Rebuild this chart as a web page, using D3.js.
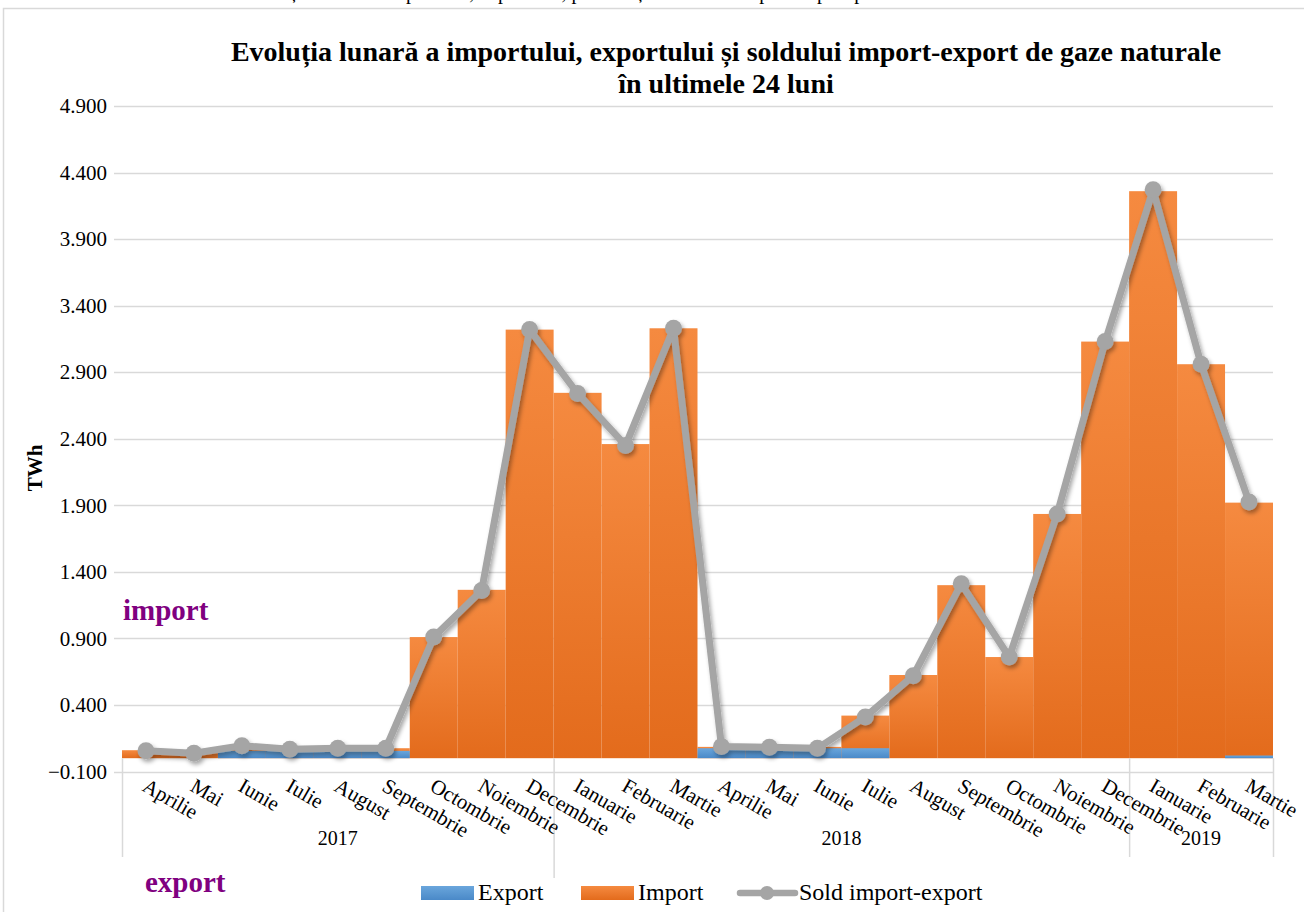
<!DOCTYPE html>
<html>
<head>
<meta charset="utf-8">
<script src="https://cdn.jsdelivr.net/npm/d3@7"></script>
<style>
  body { margin: 0; background: #fff; }
  svg text { font-family: "Liberation Serif", "Times New Roman", serif; fill: #000; }
</style>
</head>
<body>
<svg id="chart" width="1304" height="912"></svg>
<script>
// months, two years of data (Apr 2017 - Mar 2019)
let months = ['Aprilie','Mai','Iunie','Iulie','August','Septembrie','Octombrie','Noiembrie','Decembrie','Ianuarie','Februarie','Martie',
  'Aprilie','Mai','Iunie','Iulie','August','Septembrie','Octombrie','Noiembrie','Decembrie','Ianuarie','Februarie','Martie'];
let years = [{label: '2017', count: 9}, {label: '2018', count: 12}, {label: '2019', count: 3}];

let importVals = [0.06, 0.045, 0.07, 0.07, 0.07, 0.075, 0.91, 1.265, 3.22, 2.745, 2.36, 3.23,
  0.085, 0.085, 0.085, 0.32, 0.625, 1.30, 0.76, 1.835, 3.13, 4.26, 2.96, 1.92];
let exportVals = [0, 0, 0.055, 0.055, 0.055, 0.055, 0, 0, 0, 0, 0, 0,
  0.075, 0.075, 0.075, 0.075, 0, 0, 0, 0, 0, 0, 0, 0.02];
let soldVals = [0.056, 0.037, 0.094, 0.067, 0.074, 0.074, 0.91, 1.26, 3.22, 2.74, 2.35, 3.23,
  0.087, 0.082, 0.074, 0.31, 0.62, 1.31, 0.76, 1.835, 3.13, 4.27, 2.96, 1.925];
let yTicks = [-0.1, 0.4, 0.9, 1.4, 1.9, 2.4, 2.9, 3.4, 3.9, 4.4, 4.9];

let svg = d3.select('#chart');
let defs = svg.append('defs');

let gOrange = defs.append('linearGradient').attr('id', 'gOrange').attr('x1', 0).attr('y1', 0).attr('x2', 0).attr('y2', 1);
gOrange.append('stop').attr('offset', '0%').attr('stop-color', '#F58A40');
gOrange.append('stop').attr('offset', '100%').attr('stop-color', '#E36B1C');
let gBlue = defs.append('linearGradient').attr('id', 'gBlue').attr('x1', 0).attr('y1', 0).attr('x2', 0).attr('y2', 1);
gBlue.append('stop').attr('offset', '0%').attr('stop-color', '#6AA6DC');
gBlue.append('stop').attr('offset', '100%').attr('stop-color', '#4A89C8');

let shadow = defs.append('filter').attr('id', 'shadow').attr('x', '-20%').attr('y', '-20%').attr('width', '140%').attr('height', '140%');
shadow.append('feDropShadow').attr('dx', 2).attr('dy', 3).attr('stdDeviation', 2.2)
  .attr('flood-color', '#000').attr('flood-opacity', 0.35);

// page text above the chart, only its lower edge shows
svg.append('text').attr('x', 652).attr('y', -1).attr('text-anchor', 'middle')
  .style('font-size', '20px')
  .text('Evoluția lunară a importului, exportului, precum și a soldului import-export pentru ultimele 24 de luni');

// chart frame
svg.append('rect').attr('x', 3.5).attr('y', 8.5).attr('width', 1320).attr('height', 920)
  .attr('fill', 'none').attr('stroke', '#d9d9d9').attr('stroke-width', 1.5);

let x = d3.scaleBand().domain(d3.range(months.length)).range([122, 1273]).padding(0);
let y = d3.scaleLinear().domain([-0.1, 4.9]).range([771.5, 106]);

// gridlines
svg.append('g').selectAll('line').data(yTicks).join('line')
  .attr('x1', 114).attr('x2', 1273)
  .attr('y1', d => Math.round(y(d)) + 0.5).attr('y2', d => Math.round(y(d)) + 0.5)
  .attr('stroke', '#d9d9d9').attr('stroke-width', 1.3);

// y axis labels
let yAxis = d3.axisLeft(y).tickValues(yTicks).tickSize(0).tickPadding(0)
  .tickFormat(d => d3.format('.3f')(d));
let yg = svg.append('g').attr('transform', 'translate(107,0)').call(yAxis);
yg.select('.domain').remove();
yg.selectAll('text').style('font-size', '21px').style('font-family', '"Liberation Serif", serif').attr('fill', '#000');

// bars: import behind, export in front
svg.append('g').selectAll('rect').data(importVals).join('rect')
  .attr('x', (d, i) => x(i)).attr('width', x.bandwidth())
  .attr('y', d => y(d)).attr('height', d => y(0) - y(d))
  .attr('fill', 'url(#gOrange)');
svg.append('g').selectAll('rect').data(exportVals).join('rect')
  .attr('x', (d, i) => x(i)).attr('width', x.bandwidth())
  .attr('y', d => y(d)).attr('height', d => y(0) - y(d))
  .attr('fill', 'url(#gBlue)');

// zero axis line
svg.append('line').attr('x1', 122).attr('x2', 1273).attr('y1', y(0)).attr('y2', y(0))
  .attr('stroke', '#d0d0d0').attr('stroke-width', 2).attr('filter', 'url(#shadow)');

// category axis: separators and labels
let bounds = [0];
years.forEach(yr => bounds.push(bounds[bounds.length - 1] + yr.count));
let sepX = i => i < months.length ? x(i) : x.range()[1];
svg.append('g').selectAll('line').data(bounds).join('line')
  .attr('x1', d => sepX(d) + 0.5).attr('x2', d => sepX(d) + 0.5)
  .attr('y1', y(0)).attr('y2', (d, i) => i === 1 ? 878 : 857)
  .attr('stroke', '#d9d9d9').attr('stroke-width', 1.5);

svg.append('g').selectAll('text').data(months).join('text')
  .attr('transform', (d, i) => `translate(${x(i) + x.bandwidth() / 2 - 5},790) rotate(30)`)
  .style('font-size', '21px')
  .text(d => d);

svg.append('g').selectAll('text').data(years).join('text')
  .attr('x', (d, i) => (sepX(bounds[i]) + sepX(bounds[i + 1])) / 2)
  .attr('y', 845).attr('text-anchor', 'middle')
  .style('font-size', '20px')
  .text(d => d.label);

// sold line
let line = d3.line().x((d, i) => x(i) + x.bandwidth() / 2).y(d => y(d));
let soldG = svg.append('g').attr('filter', 'url(#shadow)');
soldG.append('path').datum(soldVals).attr('d', line)
  .attr('fill', 'none').attr('stroke', '#A5A5A5').attr('stroke-width', 7).attr('stroke-linejoin', 'round');
soldG.selectAll('circle').data(soldVals).join('circle')
  .attr('cx', (d, i) => x(i) + x.bandwidth() / 2).attr('cy', d => y(d)).attr('r', 8.5)
  .attr('fill', '#A5A5A5');

// title
let title = svg.append('text').attr('x', 726).attr('text-anchor', 'middle')
  .style('font-size', '28px').style('font-weight', 'bold');
title.append('tspan').attr('x', 726).attr('y', 61).text('Evoluția lunară a importului, exportului și soldului import-export de gaze naturale');
title.append('tspan').attr('x', 726).attr('y', 93).text('în ultimele 24 luni');

// y axis title
svg.append('text').attr('transform', 'translate(42,468) rotate(-90)').attr('text-anchor', 'middle')
  .style('font-size', '21px').style('font-weight', 'bold').text('TWh');

// import / export annotations
svg.append('text').attr('x', 123).attr('y', 620).style('font-size', '29px').style('font-weight', 'bold')
  .style('fill', '#800080').text('import');
svg.append('text').attr('x', 145).attr('y', 892).style('font-size', '29px').style('font-weight', 'bold')
  .style('fill', '#800080').text('export');

// legend
let legend = svg.append('g');
legend.append('rect').attr('x', 421).attr('y', 886).attr('width', 53).attr('height', 14).attr('fill', 'url(#gBlue)');
legend.append('text').attr('x', 478).attr('y', 900).style('font-size', '24px').text('Export');
legend.append('rect').attr('x', 581).attr('y', 886).attr('width', 53).attr('height', 14).attr('fill', 'url(#gOrange)');
legend.append('text').attr('x', 638).attr('y', 900).style('font-size', '24px').text('Import');
legend.append('line').attr('x1', 740).attr('x2', 795).attr('y1', 893).attr('y2', 893)
  .attr('stroke', '#A5A5A5').attr('stroke-width', 6.5).attr('stroke-linecap', 'round');
legend.append('circle').attr('cx', 767).attr('cy', 893).attr('r', 7).attr('fill', '#A5A5A5');
legend.append('text').attr('x', 799).attr('y', 900).style('font-size', '24px').text('Sold import-export');
</script>
</body>
</html>
